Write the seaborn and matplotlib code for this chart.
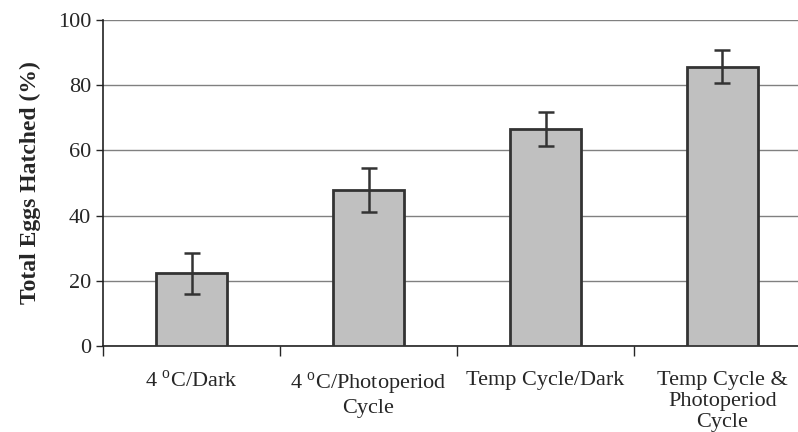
import matplotlib
matplotlib.use("Agg")
import matplotlib.pyplot as plt
import seaborn as sns
import pandas as pd
import numpy as np

# Values
categories = ["4 $^{\\mathrm{o}}$C/Dark",
              "4 $^{\\mathrm{o}}$C/Photoperiod\nCycle",
              "Temp Cycle/Dark",
              "Temp Cycle &\nPhotoperiod\nCycle"]
hatched = [22.3, 47.9, 66.6, 85.7]
errors = [6.3, 6.8, 5.3, 5.0]

sns.set_style("white")
plt.rcParams["font.family"] = ["Liberation Serif", "DejaVu Serif"]
plt.rcParams["mathtext.fontset"] = "custom"
plt.rcParams["mathtext.rm"] = "Liberation Serif"

df = pd.DataFrame({"cond": categories, "pct": hatched})

fig = plt.figure(figsize=(7.98, 4.32), dpi=100)
ax = fig.add_axes([103 / 798, 86 / 432, 708 / 798, 326 / 432])

sns.barplot(data=df, x="cond", y="pct", color="#c0c0c0", width=0.4,
            edgecolor="#333333", linewidth=2, saturation=1, ax=ax, zorder=3)
ax.errorbar(range(len(hatched)), hatched, yerr=errors, fmt="none",
            ecolor="#333333", elinewidth=1.8, capsize=6, capthick=1.8, zorder=4)

ax.set_ylim(0, 100)
ax.set_xlim(-0.5, 3.5)
ax.set_yticks(range(0, 101, 20))
ax.yaxis.grid(True, color="#808080", linewidth=1)
ax.set_axisbelow(True)

ax.set_xlabel("")
ax.set_ylabel("Total Eggs Hatched (%)", fontsize=17, fontweight="bold", labelpad=12)
ax.tick_params(axis="y", labelsize=16, length=5, width=1, direction="out", left=True)
ax.tick_params(axis="x", which="major", labelsize=16, length=0, pad=18)
ax.set_xticks(np.arange(-0.5, 4, 1), minor=True)
ax.tick_params(axis="x", which="minor", length=7, width=1, direction="out", bottom=True)
for lbl in ax.get_xticklabels():
    lbl.set_verticalalignment("top")
    lbl.set_horizontalalignment("center")
    lbl.set_multialignment("center")
    lbl.set_linespacing(1.15)

for s in ["top", "right"]:
    ax.spines[s].set_visible(False)
for s in ["left", "bottom"]:
    ax.spines[s].set_color("#222222")
    ax.spines[s].set_linewidth(1.2)

fig.savefig("out.png", dpi=100)
